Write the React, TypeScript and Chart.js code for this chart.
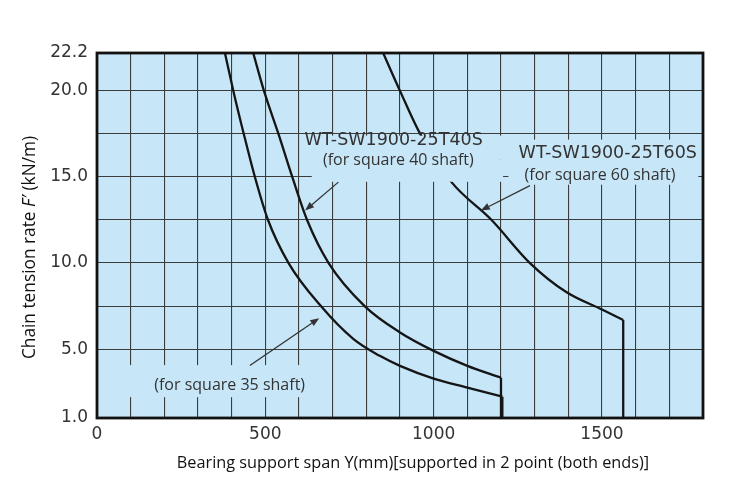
import { useEffect, useRef } from 'react';
import { Chart, registerables } from 'chart.js';

Chart.register(...registerables);

// bearing support span (mm) vs chain tension rate F' (kN/m)
const sq35Span = [380, 405, 436, 469, 508, 569, 665, 762, 840, 900, 1000, 1100, 1204];
const sq35Rate = [22.2, 20.0, 17.5, 15.0, 12.5, 10.0, 7.5, 5.58, 4.61, 4.03, 3.29, 2.77, 2.24];

const sq40Span = [464, 496, 539, 580, 624, 688, 795, 900, 1000, 1100, 1200];
const sq40Rate = [22.2, 20.0, 17.5, 15.0, 12.5, 10.0, 7.5, 5.97, 4.9, 4.03, 3.34];

const sq60Span = [850, 900, 960, 1053, 1172, 1286, 1395, 1500, 1563];
const sq60Rate = [22.2, 20.0, 17.5, 14.7, 12.5, 10.0, 8.3, 7.3, 6.69];

const xMin = 0;
const xMax = 1800;
const xLabelTicks = [0, 500, 1000, 1500];

const yMin = 1.0;
const yMax = 22.2;
const yTickValues = [1.0, 5.0, 7.5, 10.0, 12.5, 15.0, 17.5, 20.0, 22.2];
const yTickLabels = ['1.0', '5.0', '', '10.0', '', '15.0', '', '20.0', '22.2'];

// annotations, in data units
const labelBoxes = [
  { x0: 603, x1: 1206, y0: 17.4, y1: 16.0 },
  { x0: 638, x1: 1206, y0: 16.0, y1: 14.72 },
  { x0: 1222, x1: 1786, y0: 17.17, y1: 14.55 },
  { x0: 74, x1: 632, y0: 4.07, y1: 2.21 },
];

const labelTexts = [
  { text: 'WT-SW1900-25T40S', x: 881, y: 17.12, gothic: true },
  { text: '(for square 40 shaft)', x: 895, y: 15.96, gothic: false },
  { text: 'WT-SW1900-25T60S', x: 1517, y: 16.35, gothic: true },
  { text: '(for square 60 shaft)', x: 1494, y: 15.09, gothic: false },
  { text: '(for square 35 shaft)', x: 394, y: 2.9, gothic: false },
];

const arrows = [
  { fx: 717, fy: 14.7, tx: 618, ty: 13.05 },
  { fx: 454, fy: 4.05, tx: 660, ty: 6.8 },
  { fx: 1286, fy: 14.5, tx: 1140, ty: 13.05 },
];

const plotBg = '#c7e7f8';
const gridColor = '#3c3c3c';
const textColor = '#333333';
const gothicFont = '"DejaVu Sans", sans-serif';
const bodyFont = '"Open Sans", sans-serif';

function curve(span: number[], rate: number[]) {
  return span.map((x, i) => ({ x, y: rate[i] }));
}

function drop(span: number[], rate: number[]) {
  const n = span.length - 1;
  return [
    { x: span[n], y: rate[n] },
    { x: span[n], y: yMin },
  ];
}

const decorPlugin = {
  id: 'decor',
  beforeDraw(chart: any) {
    const { ctx, chartArea: a } = chart;
    ctx.save();
    ctx.fillStyle = plotBg;
    ctx.fillRect(a.left, a.top, a.right - a.left, a.bottom - a.top);
    ctx.restore();
  },
  afterDatasetsDraw(chart: any) {
    const { ctx } = chart;
    const xs = chart.scales.x;
    const ys = chart.scales.y;
    ctx.save();

    ctx.fillStyle = plotBg;
    labelBoxes.forEach((b) => {
      const l = xs.getPixelForValue(b.x0);
      const r = xs.getPixelForValue(b.x1);
      const t = ys.getPixelForValue(b.y0);
      const btm = ys.getPixelForValue(b.y1);
      ctx.fillRect(l, t, r - l, btm - t);
    });

    ctx.fillStyle = textColor;
    ctx.textAlign = 'center';
    ctx.textBaseline = 'middle';
    labelTexts.forEach((lb) => {
      ctx.font = lb.gothic ? `17.5px ${gothicFont}` : `16px ${bodyFont}`;
      ctx.fillText(lb.text, xs.getPixelForValue(lb.x), ys.getPixelForValue(lb.y));
    });

    ctx.strokeStyle = '#333';
    ctx.fillStyle = '#333';
    ctx.lineWidth = 1.3;
    arrows.forEach((ar) => {
      const x0 = xs.getPixelForValue(ar.fx);
      const y0 = ys.getPixelForValue(ar.fy);
      const x1 = xs.getPixelForValue(ar.tx);
      const y1 = ys.getPixelForValue(ar.ty);
      const ang = Math.atan2(y1 - y0, x1 - x0);
      const len = 9;
      const hw = 3.5;
      const bx = x1 - len * Math.cos(ang);
      const by = y1 - len * Math.sin(ang);
      ctx.beginPath();
      ctx.moveTo(x0, y0);
      ctx.lineTo(bx, by);
      ctx.stroke();
      ctx.beginPath();
      ctx.moveTo(x1, y1);
      ctx.lineTo(bx + hw * Math.sin(ang), by - hw * Math.cos(ang));
      ctx.lineTo(bx - hw * Math.sin(ang), by + hw * Math.cos(ang));
      ctx.closePath();
      ctx.fill();
    });
    ctx.restore();
  },
  afterDraw(chart: any) {
    const { ctx, chartArea: a } = chart;
    ctx.save();
    ctx.strokeStyle = '#111';
    ctx.lineWidth = 2.8;
    ctx.strokeRect(a.left, a.top, a.right - a.left, a.bottom - a.top);

    ctx.fillStyle = '#111';
    ctx.textBaseline = 'middle';

    // x axis title
    ctx.font = `16.3px ${bodyFont}`;
    ctx.textAlign = 'center';
    ctx.fillText(
      'Bearing support span Y(mm)[supported in 2 point (both ends)]',
      a.left + 316,
      a.bottom + 45
    );

    // y axis title, with italic F'
    const parts = [
      { t: 'Chain tension rate ', f: `17.3px ${bodyFont}` },
      { t: 'F′', f: `italic 17.3px ${bodyFont}` },
      { t: ' (kN/m)', f: `17.3px ${bodyFont}` },
    ];
    let total = 0;
    const widths = parts.map((p) => {
      ctx.font = p.f;
      const w = ctx.measureText(p.t).width;
      total += w;
      return w;
    });
    ctx.translate(30, (a.top + a.bottom) / 2 + 12);
    ctx.rotate(-Math.PI / 2);
    ctx.textAlign = 'left';
    let cx = -total / 2;
    parts.forEach((p, i) => {
      ctx.font = p.f;
      ctx.fillText(p.t, cx, 0);
      cx += widths[i];
    });
    ctx.restore();
  },
};

export default function App() {
  const canvasRef = useRef<HTMLCanvasElement>(null);
  const chartRef = useRef<Chart | null>(null);

  useEffect(() => {
    if (!canvasRef.current) return;
    if (chartRef.current) chartRef.current.destroy();

    const lineStyle = {
      borderColor: '#151515',
      borderWidth: 2.3,
      pointRadius: 0,
      fill: false,
    };
    const smooth = { cubicInterpolationMode: 'monotone', ...lineStyle };
    const straight = { tension: 0, ...lineStyle };

    chartRef.current = new Chart(canvasRef.current, {
      type: 'line',
      data: {
        datasets: [
          { label: 'square 35', data: curve(sq35Span, sq35Rate), ...smooth },
          { label: 'square 35 end', data: drop(sq35Span, sq35Rate), ...straight },
          { label: 'WT-SW1900-25T40S', data: curve(sq40Span, sq40Rate), ...smooth },
          { label: '25T40S end', data: drop(sq40Span, sq40Rate), ...straight },
          { label: 'WT-SW1900-25T60S', data: curve(sq60Span, sq60Rate), ...smooth },
          { label: '25T60S end', data: drop(sq60Span, sq60Rate), ...straight },
        ],
      },
      options: {
        responsive: false,
        animation: false,
        parsing: false,
        layout: { padding: { top: 53, right: 30, left: 0, bottom: 0 } },
        plugins: {
          legend: { display: false },
          tooltip: { enabled: false },
        },
        scales: {
          x: {
            type: 'linear',
            min: xMin,
            max: xMax,
            afterFit: (scale: any) => {
              scale.height = 79;
            },
            ticks: {
              stepSize: 100,
              autoSkip: false,
              maxRotation: 0,
              padding: 6,
              color: textColor,
              font: { family: gothicFont, size: 17 },
              callback: (v: any) => (xLabelTicks.includes(Number(v)) ? String(v) : ''),
            },
            grid: { color: gridColor, lineWidth: 1.1, drawTicks: false },
            border: { display: false },
          },
          y: {
            type: 'linear',
            min: yMin,
            max: yMax,
            afterFit: (scale: any) => {
              scale.width = 97;
            },
            afterBuildTicks: (scale: any) => {
              scale.ticks = yTickValues.map((value) => ({ value }));
            },
            ticks: {
              padding: 9,
              autoSkip: false,
              color: textColor,
              font: { family: gothicFont, size: 17 },
              callback: (_v: any, i: number) => yTickLabels[i],
            },
            grid: { color: gridColor, lineWidth: 1.1, drawTicks: false },
            border: { display: false },
          },
        },
      },
      plugins: [decorPlugin],
    } as any);

    return () => {
      if (chartRef.current) {
        chartRef.current.destroy();
        chartRef.current = null;
      }
    };
  }, []);

  return (
    <div style={{ position: 'fixed', left: 0, top: 0, width: 733, height: 497, background: '#fff' }}>
      <canvas ref={canvasRef} width={733} height={497}></canvas>
    </div>
  );
}
